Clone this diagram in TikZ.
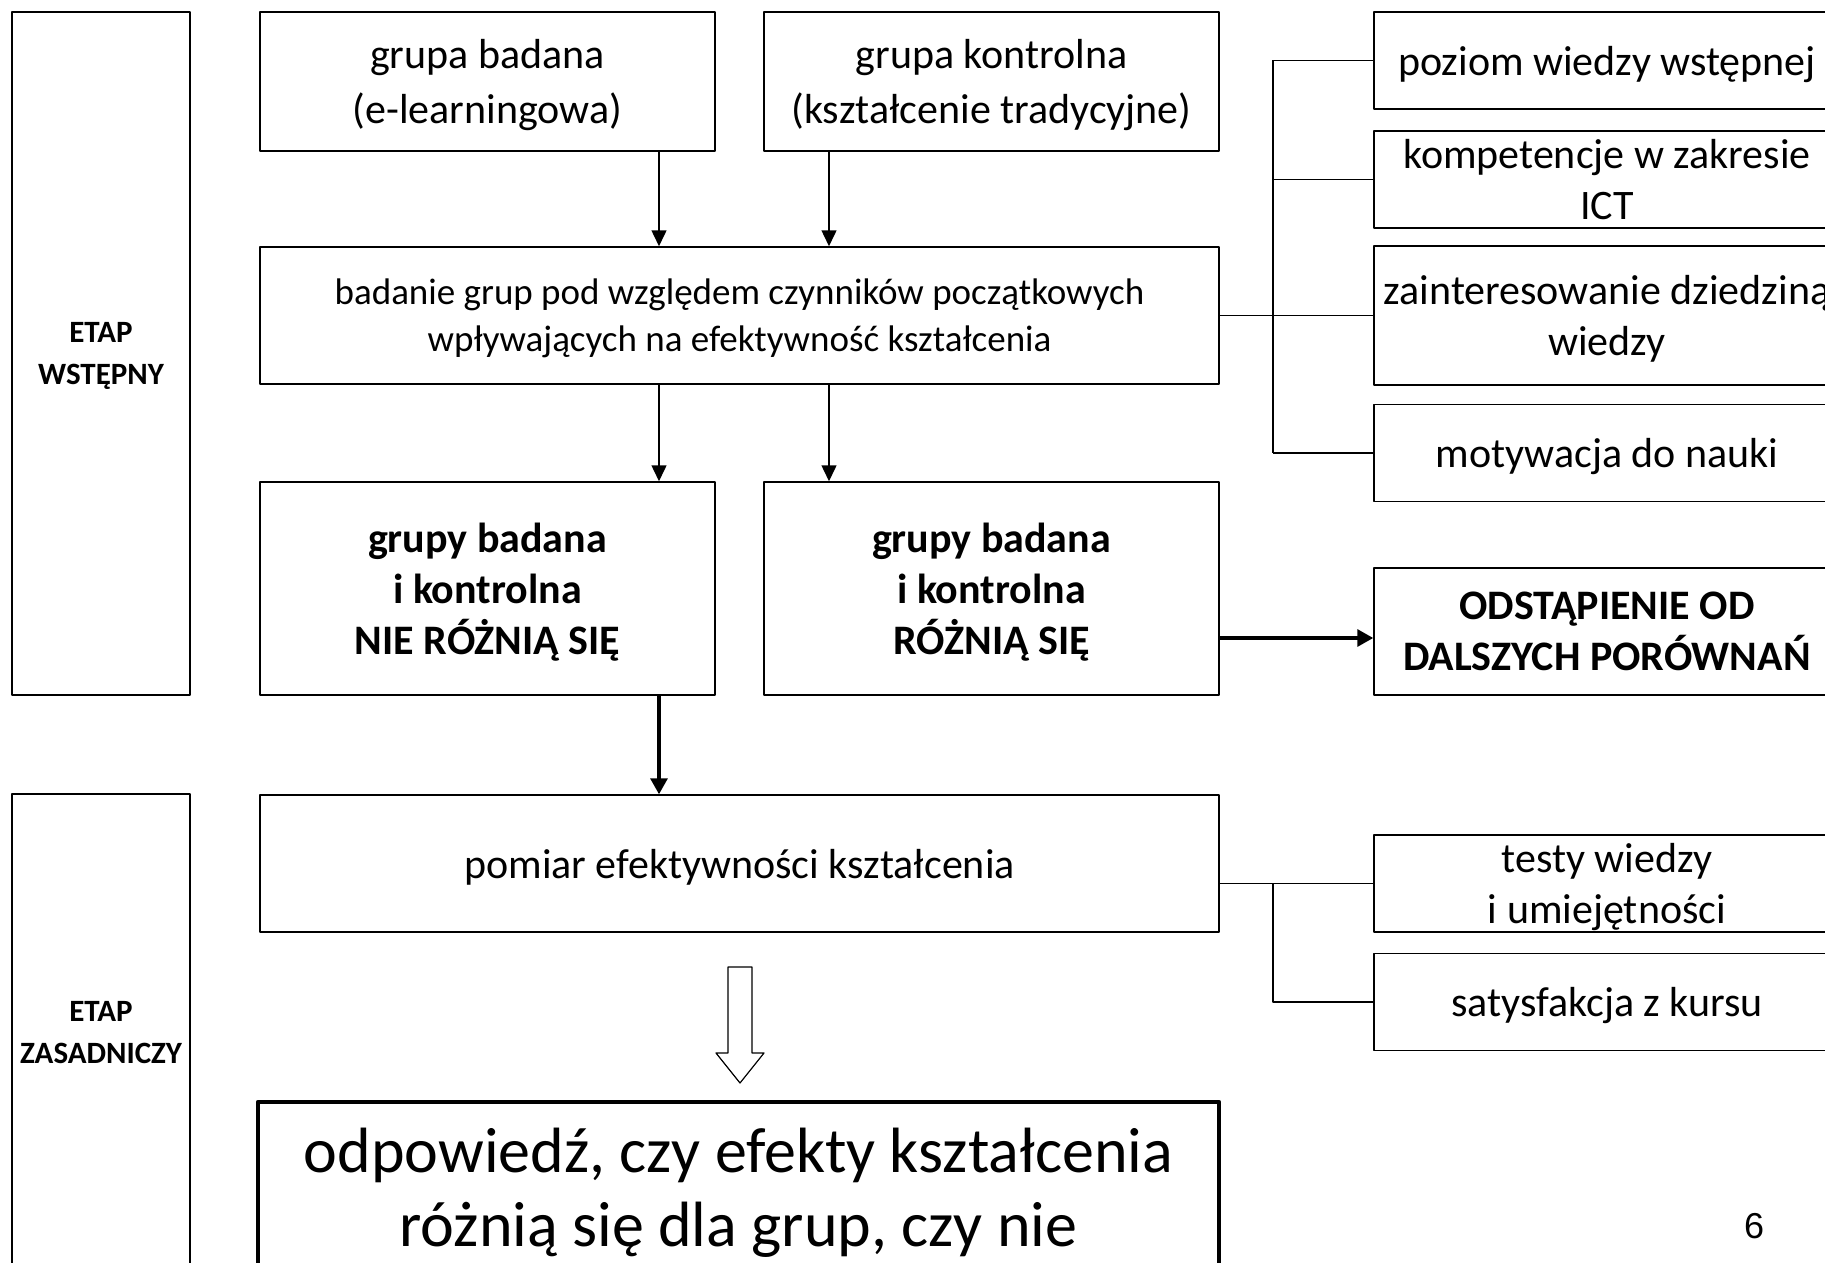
\documentclass[tikz,border=0pt]{standalone}
\usepackage{fontspec}
\setmainfont{Carlito}
\newfontfamily\numfont{Liberation Sans}
\usetikzlibrary{arrows.meta}

\tikzset{
  blok/.style={draw,line width=1.5pt,align=center,inner sep=0pt,text depth=0pt,font=\fontsize{42}{51}\selectfont},
  blokb/.style={blok,font=\bfseries\fontsize{42}{51}\selectfont},
  etap/.style={blok,minimum width=178,font=\bfseries\fontsize{31}{42}\selectfont},
  prawy/.style={blok,minimum width=466,minimum height=97},
  gruba/.style={line width=3.2pt,-{Triangle[width=17pt,length=16pt]}}
}

\begin{document}
\begin{tikzpicture}[x=1pt,y=-1pt,line join=round,>={Triangle[width=15pt,length=16pt]}]
		\useasboundingbox (0,0) rectangle (1825,1263);
		\coordinate (xL) at (659,0);
		\coordinate (xR) at (829,0);
		\coordinate (kx) at (1273,0);
		\coordinate (yO) at (0,638);
		% etapy
		\node[etap,minimum height=683] (EW) at (101,353.5) {ETAP\\WSTĘPNY};
		\node[etap,minimum height=476] (EZ) at (101,1032) {ETAP\\ZASADNICZY};
		% ciag glowny
		\node[blok,minimum width=455,minimum height=139,font=\fontsize{42}{55}\selectfont] (GB) at (487.5,81.5) {grupa badana\\(e-learningowa)};
		\node[blok,minimum width=455,minimum height=139,font=\fontsize{42}{55}\selectfont] (GK) at (991.5,81.5) {grupa kontrolna\\(kształcenie tradycyjne)};
		\node[blok,minimum width=959,minimum height=137,font=\fontsize{37}{47}\selectfont] (BG) at (739.5,315.5) {badanie grup pod względem czynników początkowych\\wpływających na efektywność kształcenia};
		\node[blokb,minimum width=455,minimum height=213] (NR) at (487.5,588.5) {grupy badana\\i kontrolna\\NIE RÓŻNIĄ SIĘ};
		\node[blokb,minimum width=455,minimum height=213] (RS) at (991.5,588.5) {grupy badana\\i kontrolna\\RÓŻNIĄ SIĘ};
		\node[blok,minimum width=959,minimum height=137] (PM) at (739.5,863.5) {pomiar efektywności kształcenia};
		\node[blok,line width=4.5pt,text depth={},minimum width=961,minimum height=182,font=\fontsize{64}{74}\selectfont] (ODP) at (738.5,1193) {odpowiedź, czy efekty kształcenia\\różnią się dla grup, czy nie};
		% czynniki
		\node[prawy] (PW) at (1607,60.5) {poziom wiedzy wstępnej};
		\node[prawy] (KI) at (1607,179.5) {kompetencje w zakresie\\ICT};
		\node[prawy,minimum height=139] (ZA) at (1607,315.5) {zainteresowanie dziedziną\\wiedzy};
		\node[prawy] (MN) at (1607,453) {motywacja do nauki};
		\node[prawy,font=\bfseries\fontsize{42}{51}\selectfont,minimum height=127] (OD) at (1607,631.5) {ODSTĄPIENIE OD\\DALSZYCH PORÓWNAŃ};
		\node[prawy] (TW) at (1607,883.5) {testy wiedzy\\i umiejętności};
		\node[prawy] (SK) at (1607,1002) {satysfakcja z kursu};
		\node[font=\numfont\fontsize{36}{43}\selectfont] (nr) at (1754,1226) {6};
		% strzalki
		\draw[->,line width=1.5pt] (GB.south -| xL) -- (BG.north -| xL);
		\draw[->,line width=1.5pt] (GK.south -| xR) -- (BG.north -| xR);
		\draw[->,line width=1.5pt] (BG.south -| xL) -- (NR.north -| xL);
		\draw[->,line width=1.5pt] (BG.south -| xR) -- (RS.north -| xR);
		\draw[gruba] (NR.south -| xL) -- (PM.north -| xL);
		\draw[gruba] (RS.east |- yO) -- (OD.west |- yO);
		% klamry
		\draw[line width=1.8pt] (BG.east) -- (ZA.west);
		\draw[line width=1.8pt] (PW.west -| kx) -- (MN.west -| kx);
		\foreach \n in {PW,KI,MN} \draw[line width=1.8pt] (\n.west -| kx) -- (\n.west);
		\draw[line width=1.8pt] (PM.east |- TW.west) -- (TW.west);
		\draw[line width=1.8pt] (TW.west -| kx) |- (SK.west);
		% pusta strzalka
		\draw[line width=1.2pt] (728,967) -- (752,967) -- (752,1053) -- (764,1053) -- (740,1083) -- (716,1053) -- (728,1053) -- cycle;
	\end{tikzpicture}
\end{document}
